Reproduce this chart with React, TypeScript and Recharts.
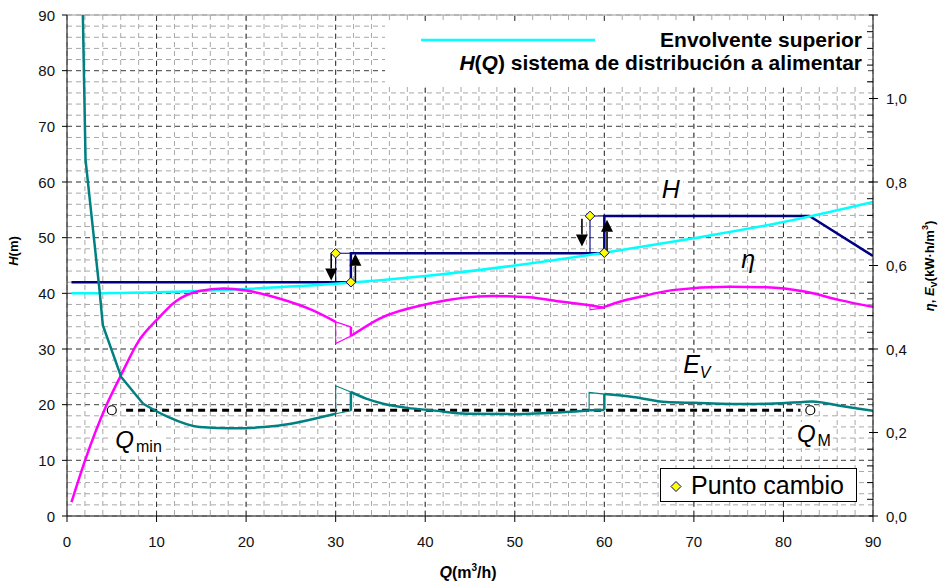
import React from 'react';
import { ComposedChart, Line, XAxis, YAxis, CartesianGrid, ReferenceLine, ReferenceDot } from 'recharts';

const FONT = '"Liberation Sans", Arial, Helvetica, sans-serif';

// ---------- ticks ----------
const qTicks = Array.from({ length: 46 }, (_, i) => i * 2);
const hTicks = Array.from({ length: 46 }, (_, i) => i * 2);
const rightTicks = Array.from({ length: 31 }, (_, i) => Math.round(i * 4) / 100);
const qMajor = [10, 20, 30, 40, 50, 60, 70, 80];
const hMajor = [10, 20, 30, 40, 50, 60, 70, 80];
const rightLabels = ['0,0', '0,2', '0,4', '0,6', '0,8', '1,0'];

type P = { q: number; v: number };

// ---------- Envolvente superior H(Q) (m) ----------
const envolvente: P[] = [
  { q: 0.5, v: 40.0 }, { q: 10, v: 40.2 }, { q: 20, v: 40.8 }, { q: 30, v: 41.7 },
  { q: 40, v: 43.1 }, { q: 50, v: 45.0 }, { q: 60, v: 47.3 }, { q: 70, v: 49.9 },
  { q: 80, v: 52.8 }, { q: 90, v: 56.4 },
];

// ---------- H (m) ----------
const hSeg1: P[] = [{ q: 0.5, v: 42.0 }, { q: 31.7, v: 42.0 }];
const hSwitch1: P[] = [{ q: 30, v: 42.0 }, { q: 30, v: 47.2 }, { q: 31.7, v: 47.2 }];
const hSeg2: P[] = [{ q: 31.7, v: 42.0 }, { q: 31.7, v: 47.2 }, { q: 60, v: 47.2 }];
const hSwitch2: P[] = [{ q: 58.4, v: 47.2 }, { q: 58.4, v: 53.9 }, { q: 60, v: 53.9 }];
const hSeg3: P[] = [{ q: 60, v: 47.2 }, { q: 60, v: 53.9 }, { q: 82.9, v: 53.9 }, { q: 90, v: 46.7 }];

// ---------- eta (-) ----------
const etaSeg1: P[] = [
  { q: 0.5, v: 0.033 }, { q: 2, v: 0.132 }, { q: 4.4, v: 0.265 }, { q: 6, v: 0.336 },
  { q: 8, v: 0.419 }, { q: 10, v: 0.469 }, { q: 12.2, v: 0.515 }, { q: 14.8, v: 0.539 },
  { q: 17.5, v: 0.545 }, { q: 20, v: 0.540 }, { q: 23.7, v: 0.521 }, { q: 27.4, v: 0.493 },
  { q: 30, v: 0.465 },
];
const etaTail1: P[] = [{ q: 30, v: 0.465 }, { q: 31.7, v: 0.453 }];
const etaSwitch1: P[] = [{ q: 30, v: 0.465 }, { q: 30, v: 0.413 }, { q: 31.7, v: 0.431 }];
const etaJump1: P[] = [{ q: 31.7, v: 0.453 }, { q: 31.7, v: 0.431 }];
const etaSeg2: P[] = [
  { q: 31.7, v: 0.431 }, { q: 34.9, v: 0.473 }, { q: 40.5, v: 0.509 }, { q: 47.5, v: 0.527 },
  { q: 51.6, v: 0.524 }, { q: 55.3, v: 0.513 }, { q: 58.4, v: 0.505 },
];
const etaTail2: P[] = [{ q: 58.4, v: 0.505 }, { q: 60, v: 0.499 }];
const etaSwitch2: P[] = [{ q: 58.4, v: 0.505 }, { q: 58.4, v: 0.494 }, { q: 60, v: 0.499 }];
const etaSeg3: P[] = [
  { q: 60, v: 0.501 }, { q: 62, v: 0.515 }, { q: 64, v: 0.525 }, { q: 67.6, v: 0.541 },
  { q: 74, v: 0.549 }, { q: 78.1, v: 0.548 }, { q: 82.5, v: 0.537 }, { q: 86.3, v: 0.517 },
  { q: 90, v: 0.501 },
];

// ---------- E_V (kW·h/m3) ----------
const evSeg1a: P[] = [
  { q: 1.77, v: 1.2 }, { q: 2.07, v: 0.853 }, { q: 3.63, v: 0.541 }, { q: 4.0, v: 0.457 },
  { q: 6.05, v: 0.333 }, { q: 8.5, v: 0.269 },
];
const evSeg1b: P[] = [
  { q: 8.5, v: 0.269 }, { q: 11.1, v: 0.239 }, { q: 14.8, v: 0.213 }, { q: 18.5, v: 0.210 },
  { q: 22, v: 0.213 }, { q: 25, v: 0.221 }, { q: 28.2, v: 0.236 }, { q: 30, v: 0.245 },
];
const evTail1: P[] = [{ q: 30, v: 0.245 }, { q: 31.7, v: 0.252 }];
const evSwitch1: P[] = [{ q: 30, v: 0.245 }, { q: 30, v: 0.312 }, { q: 31.7, v: 0.297 }];
const evJump1: P[] = [{ q: 31.7, v: 0.252 }, { q: 31.7, v: 0.297 }];
const evSeg2: P[] = [
  { q: 31.7, v: 0.297 }, { q: 33.4, v: 0.281 }, { q: 35.3, v: 0.269 }, { q: 38, v: 0.259 },
  { q: 40.8, v: 0.253 }, { q: 44.6, v: 0.245 }, { q: 49.8, v: 0.244 }, { q: 55.7, v: 0.249 },
  { q: 58.3, v: 0.253 },
];
const evTail2: P[] = [{ q: 58.3, v: 0.253 }, { q: 60, v: 0.254 }];
const evSwitch2: P[] = [{ q: 58.3, v: 0.253 }, { q: 58.3, v: 0.296 }, { q: 60, v: 0.292 }];
const evJump2: P[] = [{ q: 60, v: 0.254 }, { q: 60, v: 0.292 }];
const evSeg3: P[] = [
  { q: 60, v: 0.292 }, { q: 63.2, v: 0.285 }, { q: 66.9, v: 0.273 }, { q: 70, v: 0.271 },
  { q: 76.2, v: 0.268 }, { q: 82.2, v: 0.273 }, { q: 83.2, v: 0.274 }, { q: 86.3, v: 0.264 },
  { q: 90, v: 0.252 },
];

// ---------- Q range (Qmin .. QM) ----------
const qRange: P[] = [{ q: 6.6, v: 19 }, { q: 81.9, v: 19 }];
const qLimits: P[] = [{ q: 5, v: 19 }, { q: 83, v: 19 }];

// ---------- Punto cambio ----------
const switchPoints: P[] = [
  { q: 30, v: 47.2 }, { q: 31.7, v: 42.0 }, { q: 58.4, v: 53.9 }, { q: 60, v: 47.3 },
];

// ---------- arrows (q, from, to) ----------
const arrows = [
  { q: 29.5, from: 47.2, to: 42.3 },
  { q: 32.2, from: 42.0, to: 47.1 },
  { q: 57.5, from: 53.4, to: 48.4 },
  { q: 60.3, from: 47.6, to: 53.2 },
];

const NAVY = '#000080';
const CYAN = '#00FFFF';
const MAGENTA = '#FF00FF';
const TEAL = '#008080';

const LeftTick = (props: any) => {
  const { x, y, payload } = props;
  const v = payload.value;
  if (v % 10 !== 0) return <g />;
  return (
    <g>
      <line x1={x - 5} x2={x} y1={y} y2={y} stroke="#000" strokeWidth={1} />
      <text x={x - 12} y={y + 5.5} textAnchor="end" fontSize={15} fontFamily={FONT} fill="#111">{v}</text>
    </g>
  );
};

const RightTick = (props: any) => {
  const { x, y, payload } = props;
  const v = payload.value;
  const idx = Math.round(v / 0.2);
  const isMajor = Math.abs(v - idx * 0.2) < 1e-6;
  if (!isMajor) {
    return <line x1={x - 6} x2={x} y1={y} y2={y} stroke="#000" strokeWidth={1} />;
  }
  return (
    <g>
      <line x1={x - 4} x2={x + 5} y1={y} y2={y} stroke="#000" strokeWidth={1} />
      {rightLabels[idx] !== undefined && (
        <text x={x + 13} y={y + 5.5} textAnchor="start" fontSize={15} fontFamily={FONT} fill="#111">{rightLabels[idx]}</text>
      )}
    </g>
  );
};

const XTick = (props: any) => {
  const { x, y, payload } = props;
  const v = payload.value;
  if (v % 10 !== 0) return <g />;
  return (
    <g>
      <line x1={x} x2={x} y1={y} y2={y + 6} stroke="#000" strokeWidth={1} />
      <text x={x} y={y + 31} textAnchor="middle" fontSize={15} fontFamily={FONT} fill="#111">{v}</text>
    </g>
  );
};

const Diamond = (p: any) => {
  const { cx, cy } = p;
  const s = 4.8;
  return (
    <polygon
      points={`${cx},${cy - s} ${cx + s},${cy} ${cx},${cy + s} ${cx - s},${cy}`}
      fill="#FFFF00" stroke={NAVY} strokeWidth={1}
    />
  );
};

const Circle = (p: any) => <circle cx={p.cx} cy={p.cy} r={4.5} fill="#fff" stroke="#000" strokeWidth={1.2} />;

const Arrow = (p: any) => {
  const { x1, y1, x2, y2 } = p;
  const dir = y2 > y1 ? 1 : -1;
  const head = 12;
  return (
    <g>
      <line x1={x1} y1={y1} x2={x2} y2={y2 - dir * head} stroke="#000" strokeWidth={1.6} />
      <polygon points={`${x2 - 6},${y2 - dir * head} ${x2 + 6},${y2 - dir * head} ${x2},${y2}`} fill="#000" />
    </g>
  );
};

const line = (key: string, data: P[], stroke: string, w: number, axis: string, type: any = 'linear', dash?: string) => (
  <Line
    key={key}
    data={data}
    dataKey="v"
    yAxisId={axis}
    stroke={stroke}
    strokeWidth={w}
    strokeDasharray={dash}
    type={type}
    dot={false}
    activeDot={false}
    isAnimationActive={false}
    legendType="none"
  />
);

export default function App() {
  return (
    <div style={{ position: 'absolute', left: 0, top: 0, width: 938, height: 584, fontFamily: FONT, background: '#fff' }}>
      <ComposedChart width={938} height={584} margin={{ top: 15, right: 0, bottom: 0, left: 0 }}>
        <CartesianGrid yAxisId="left" stroke="#a8a8a8" strokeDasharray="5 4" strokeWidth={1} />
        {qMajor.map((q) => (
          <ReferenceLine key={`vx${q}`} x={q} yAxisId="left" stroke="#333" strokeDasharray="5 4" strokeWidth={1} />
        ))}
        {hMajor.map((h) => (
          <ReferenceLine key={`hy${h}`} y={h} yAxisId="left" stroke="#555" strokeDasharray="5 4" strokeWidth={1} />
        ))}
        <ReferenceLine y={90} yAxisId="left" stroke="#999" strokeWidth={1} />
        <XAxis
          dataKey="q" type="number" domain={[0, 90]} ticks={qTicks} interval={0}
          allowDataOverflow height={68} tickSize={0} tickMargin={0} tickLine={false}
          tick={<XTick />} axisLine={{ stroke: '#000', strokeWidth: 1 }}
        />
        <YAxis
          yAxisId="left" orientation="left" type="number" domain={[0, 90]} ticks={hTicks} interval={0}
          allowDataOverflow width={67} tickSize={0} tickMargin={0} tickLine={false}
          tick={<LeftTick />} axisLine={{ stroke: '#000', strokeWidth: 1 }}
        />
        <YAxis
          yAxisId="right" orientation="right" type="number" domain={[0, 1.2]} ticks={rightTicks} interval={0}
          allowDataOverflow width={65} tickSize={0} tickMargin={0} tickLine={false}
          tick={<RightTick />} axisLine={{ stroke: '#000', strokeWidth: 1 }}
        />

        {line('qr', qRange, '#000', 3, 'left', 'linear', '7 5')}

        {line('h1', hSeg1, NAVY, 2.5, 'left')}
        {line('hs1', hSwitch1, NAVY, 1.1, 'left')}
        {line('h2', hSeg2, NAVY, 2.5, 'left')}
        {line('hs2', hSwitch2, NAVY, 1.1, 'left')}
        {line('h3', hSeg3, NAVY, 2.5, 'left')}

        {line('env', envolvente, CYAN, 2.5, 'left', 'monotone')}

        {line('e1', etaSeg1, MAGENTA, 2.5, 'right', 'monotone')}
        {line('et1', etaTail1, MAGENTA, 1.1, 'right')}
        {line('es1', etaSwitch1, MAGENTA, 1.1, 'right')}
        {line('ej1', etaJump1, MAGENTA, 2.5, 'right')}
        {line('e2', etaSeg2, MAGENTA, 2.5, 'right', 'monotone')}
        {line('et2', etaTail2, MAGENTA, 2.5, 'right')}
        {line('es2', etaSwitch2, MAGENTA, 1.1, 'right')}
        {line('e3', etaSeg3, MAGENTA, 2.5, 'right', 'monotone')}

        {line('v1a', evSeg1a, TEAL, 2.5, 'right')}
        {line('v1b', evSeg1b, TEAL, 2.5, 'right', 'monotone')}
        {line('vt1', evTail1, TEAL, 1.1, 'right')}
        {line('vs1', evSwitch1, TEAL, 1.1, 'right')}
        {line('vj1', evJump1, TEAL, 2.5, 'right')}
        {line('v2', evSeg2, TEAL, 2.5, 'right', 'monotone')}
        {line('vt2', evTail2, TEAL, 2.5, 'right')}
        {line('vs2', evSwitch2, TEAL, 1.1, 'right')}
        {line('vj2', evJump2, TEAL, 2.5, 'right')}
        {line('v3', evSeg3, TEAL, 2.5, 'right', 'monotone')}

        {arrows.map((a, i) => (
          <ReferenceLine
            key={`ar${i}`}
            yAxisId="left"
            segment={[{ x: a.q, y: a.from }, { x: a.q, y: a.to }]}
            shape={(p: any) => <Arrow {...p} />}
            ifOverflow="visible"
          />
        ))}

        {qLimits.map((c, i) => (
          <ReferenceDot key={`c${i}`} yAxisId="left" x={c.q} y={c.v} r={4.5} shape={(p: any) => <Circle {...p} />} />
        ))}
        {switchPoints.map((d, i) => (
          <ReferenceDot key={`d${i}`} yAxisId="left" x={d.q} y={d.v} r={5} shape={(p: any) => <Diamond {...p} />} />
        ))}

        <ReferenceDot
          yAxisId="left" x={66.4} y={57.1} r={1}
          shape={(p: any) => (
            <g>
              <rect x={p.cx - 3} y={p.cy - 21} width={25} height={25} fill="#fff" />
              <text x={p.cx} y={p.cy} fontSize={25} fontStyle="italic" fontFamily={FONT} fill="#000">H</text>
            </g>
          )}
        />
        <ReferenceDot
          yAxisId="left" x={75.3} y={44.6} r={1}
          shape={(p: any) => (
            <text x={p.cx} y={p.cy} fontSize={25} fontStyle="italic" fontFamily={FONT} fill="#000">η</text>
          )}
        />
        <ReferenceDot
          yAxisId="left" x={68.8} y={25.7} r={1}
          shape={(p: any) => (
            <g>
              <rect x={p.cx - 3} y={p.cy - 20} width={36} height={27} fill="#fff" />
              <text x={p.cx} y={p.cy} fontSize={25} fontStyle="italic" fontFamily={FONT} fill="#000">
                E<tspan fontSize={16} dy={5}>V</tspan>
              </text>
            </g>
          )}
        />
        <ReferenceDot
          yAxisId="left" x={5.4} y={12.2} r={1}
          shape={(p: any) => (
            <g>
              <rect x={p.cx - 3} y={p.cy - 20} width={50} height={26} fill="#fff" />
              <text x={p.cx} y={p.cy} fontSize={24} fontFamily={FONT} fill="#000">
                <tspan fontStyle="italic">Q</tspan><tspan fontSize={16} dy={4} dx={2}>min</tspan>
              </text>
            </g>
          )}
        />
        <ReferenceDot
          yAxisId="left" x={81.5} y={13.3} r={1}
          shape={(p: any) => (
            <g>
              <rect x={p.cx - 3} y={p.cy - 20} width={39} height={26} fill="#fff" />
              <text x={p.cx} y={p.cy} fontSize={24} fontFamily={FONT} fill="#000">
                <tspan fontStyle="italic">Q</tspan><tspan fontSize={16} dy={4} dx={2}>M</tspan>
              </text>
            </g>
          )}
        />
      </ComposedChart>

      <svg width={938} height={584} style={{ position: 'absolute', left: 0, top: 0, pointerEvents: 'none' }} fontFamily={FONT}>
        {/* top legend */}
        <rect x={385} y={22} width={481} height={62} fill="#fff" />
        <line x1={421} x2={595} y1={40} y2={40} stroke={CYAN} strokeWidth={2.5} />
        <text x={862} y={47} textAnchor="end" fontSize={21} fontWeight="bold" fill="#000">Envolvente superior</text>
        <text x={862} y={70} textAnchor="end" fontSize={21} fontWeight="bold" fill="#000">
          <tspan fontStyle="italic">H</tspan>(<tspan fontStyle="italic">Q</tspan>) sistema de distribución a alimentar
        </text>

        {/* Punto cambio legend */}
        <rect x={660.5} y={468.5} width={196} height={33} fill="#fff" stroke="#000" strokeWidth={1} />
        <polygon points="676,481.5 681,486.5 676,491.5 671,486.5" fill="#FFFF00" stroke={NAVY} strokeWidth={1} />
        <text x={691} y={494} fontSize={25} fill="#000">Punto cambio</text>

        {/* axis titles */}
        <text x={468} y={578} textAnchor="middle" fontSize={16} fontWeight="bold" fill="#000">
          <tspan fontStyle="italic">Q</tspan>(m<tspan fontSize={10} dy={-7}>3</tspan><tspan dy={7}>/h)</tspan>
        </text>
        <text x={18} y={251} textAnchor="middle" fontSize={13} fontWeight="bold" fill="#000" transform="rotate(-90 18 251)">
          <tspan fontStyle="italic">H</tspan>(m)
        </text>
        <text x={934} y={266} textAnchor="middle" fontSize={13} fontWeight="bold" fill="#000" transform="rotate(-90 934 266)">
          <tspan fontStyle="italic">η</tspan>, <tspan fontStyle="italic">E</tspan><tspan fontSize={9} dy={3}>V</tspan><tspan dy={-3}>(kW·h/m</tspan><tspan fontSize={9} dy={-6}>3</tspan><tspan dy={6}>)</tspan>
        </text>
      </svg>
    </div>
  );
}
